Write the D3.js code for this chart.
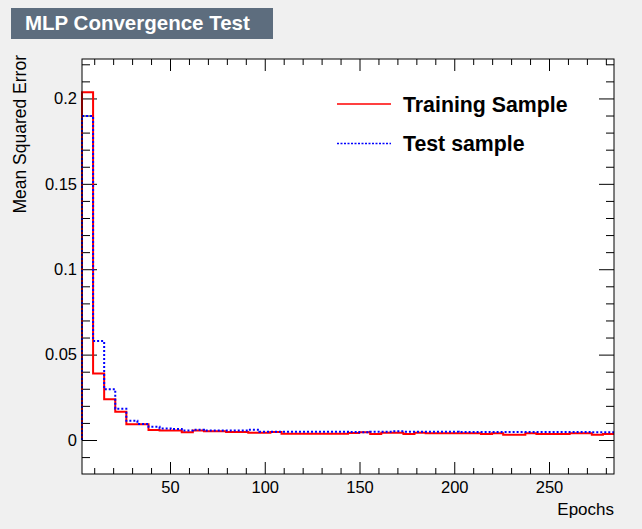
<!DOCTYPE html>
<html>
<head>
<meta charset="utf-8">
<script src="https://cdn.jsdelivr.net/npm/d3@7"></script>
<style>
  body { margin: 0; background: #f0f0f0; }
  svg { display: block; font-family: "Liberation Sans", Arial, Helvetica, sans-serif; }
  .axis text { font-size: 16.5px; fill: #000; }
  .axis line { stroke: #000; stroke-width: 1; }
</style>
</head>
<body>
<div id="chart"></div>
<script>
// histogram range in epochs and the two MSE curves (one value per bin)
const epochRange = [3.56, 284.3];
const trainMSE = [
  0.2036, 0.039, 0.0238, 0.0166, 0.0092, 0.0092, 0.0058, 0.0055, 0.0055, 0.0045,
  0.0055, 0.0051, 0.0051, 0.0047, 0.0047, 0.0043, 0.0043, 0.0047, 0.0037, 0.0037,
  0.0037, 0.0037, 0.0037, 0.0037, 0.0041, 0.0045, 0.0035, 0.0043, 0.0043, 0.0035,
  0.0043, 0.0039, 0.0039, 0.0039, 0.0039, 0.0039, 0.0035, 0.0039, 0.0031, 0.0031,
  0.0039, 0.0035, 0.0035, 0.0035, 0.0039, 0.0039, 0.0031, 0.0035
];
const testMSE = [
  0.1897, 0.058, 0.0297, 0.0183, 0.0113, 0.0094, 0.0078, 0.0068, 0.0064, 0.0055,
  0.006, 0.0055, 0.0055, 0.0055, 0.0055, 0.006, 0.0049, 0.0049, 0.0049, 0.0049,
  0.0049, 0.0049, 0.0049, 0.0049, 0.0047, 0.0045, 0.0049, 0.0049, 0.0051, 0.0049,
  0.0049, 0.0049, 0.0049, 0.0049, 0.0047, 0.0047, 0.0047, 0.0047, 0.0047, 0.0047,
  0.0047, 0.0047, 0.0047, 0.0047, 0.0047, 0.0047, 0.0045, 0.0045
];
const mseRange = [-0.0199, 0.2231];
const xTicks = [50, 100, 150, 200, 250];
const yTicks = [0, 0.05, 0.1, 0.15, 0.2];
const yTickLabels = ['0', '0.05', '0.1', '0.15', '0.2'];
const seriesNames = ['Training Sample', 'Test sample'];

const width = 642, height = 529;
const margin = {top: 59, right: 28, bottom: 55, left: 82};
const pw = width - margin.left - margin.right;
const ph = height - margin.top - margin.bottom;

const svg = d3.select('#chart').append('svg')
  .attr('width', width)
  .attr('height', height);

svg.append('rect').attr('width', width).attr('height', height).attr('fill', '#f0f0f0');

// title box
svg.append('rect')
  .attr('x', 11).attr('y', 8).attr('width', 262).attr('height', 31)
  .attr('fill', '#5d6d7e');
svg.append('text')
  .attr('x', 25).attr('y', 30)
  .attr('fill', '#fff')
  .attr('font-size', 20.5).attr('font-weight', 'bold')
  .text('MLP Convergence Test');

const g = svg.append('g').attr('transform', `translate(${margin.left},${margin.top})`);

g.append('rect').attr('width', pw).attr('height', ph).attr('fill', '#fff');

const x = d3.scaleLinear().domain(epochRange).range([0, pw]);
const y = d3.scaleLinear().domain(mseRange).range([ph, 0]);

const minorX = d3.range(10, 290, 10).filter(v => v % 50 !== 0 && v > epochRange[0] && v < epochRange[1]);
const minorY = d3.range(-1, 23).map(v => v / 100).filter(v => Math.round(v * 100) % 5 !== 0 && y(v) >= 0 && y(v) <= ph);

// bottom axis
g.append('g').attr('class', 'axis').attr('transform', `translate(0,${ph})`)
  .call(d3.axisBottom(x).tickValues(minorX).tickSize(-6).tickFormat(''));
g.append('g').attr('class', 'axis').attr('transform', `translate(0,${ph})`)
  .call(d3.axisBottom(x).tickValues(xTicks).tickSize(-12).tickPadding(7).tickFormat(d3.format('d')));
// top axis
g.append('g').attr('class', 'axis')
  .call(d3.axisTop(x).tickValues(minorX).tickSize(-6).tickFormat(''));
g.append('g').attr('class', 'axis')
  .call(d3.axisTop(x).tickValues(xTicks).tickSize(-12).tickFormat(''));
// left axis
g.append('g').attr('class', 'axis')
  .call(d3.axisLeft(y).tickValues(minorY).tickSize(-8).tickFormat(''));
g.append('g').attr('class', 'axis')
  .call(d3.axisLeft(y).tickValues(yTicks).tickSize(-15).tickPadding(5)
    .tickFormat((d, i) => yTickLabels[i]));
// right axis
g.append('g').attr('class', 'axis').attr('transform', `translate(${pw},0)`)
  .call(d3.axisRight(y).tickValues(minorY).tickSize(-8).tickFormat(''));
g.append('g').attr('class', 'axis').attr('transform', `translate(${pw},0)`)
  .call(d3.axisRight(y).tickValues(yTicks).tickSize(-15).tickFormat(''));

g.selectAll('.axis .domain').remove();

// histogram step paths
function histPoints(vals) {
  const bw = (epochRange[1] - epochRange[0]) / vals.length;
  const pts = [[epochRange[0], 0]];
  vals.forEach((v, i) => {
    pts.push([epochRange[0] + i * bw, v]);
    pts.push([epochRange[0] + (i + 1) * bw, v]);
  });
  return pts;
}
const line = d3.line().x(d => x(d[0])).y(d => y(d[1]));

g.append('path')
  .attr('d', line(histPoints(trainMSE)))
  .attr('fill', 'none').attr('stroke', '#ff0000').attr('stroke-width', 2);
g.append('path')
  .attr('d', line(histPoints(testMSE)))
  .attr('fill', 'none').attr('stroke', '#0000ff').attr('stroke-width', 2)
  .attr('stroke-dasharray', '2,2');

// frame
g.append('rect').attr('width', pw).attr('height', ph)
  .attr('fill', 'none').attr('stroke', '#000').attr('stroke-width', 1);

// axis titles
svg.append('text')
  .attr('x', width - margin.right).attr('y', 515)
  .attr('text-anchor', 'end').attr('font-size', 17)
  .text('Epochs');
svg.append('text')
  .attr('transform', 'translate(26,55) rotate(-90)')
  .attr('text-anchor', 'end').attr('font-size', 17.5)
  .text('Mean Squared Error');

// legend
const legend = svg.append('g');
[0, 1].forEach(i => {
  const ly = 104 + i * 39.5;
  legend.append('line')
    .attr('x1', 337).attr('x2', 391).attr('y1', ly).attr('y2', ly)
    .attr('stroke', i === 0 ? '#ff0000' : '#0000ff')
    .attr('stroke-width', 1.5)
    .attr('stroke-dasharray', i === 0 ? null : '2,1.5');
  legend.append('text')
    .attr('x', 403).attr('y', ly + 7.7)
    .attr('font-size', 21.3).attr('font-weight', 'bold')
    .text(seriesNames[i]);
});
</script>
</body>
</html>
